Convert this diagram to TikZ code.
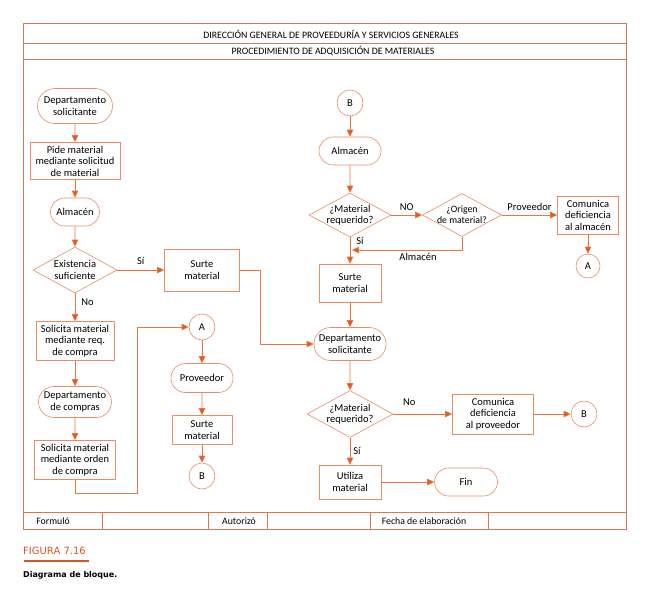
\documentclass[tikz,border=0pt]{standalone}
\usepackage{fontspec}
\setmainfont{Carlito}
\newfontfamily\capfont{DejaVu Sans}
\usepackage{xcolor}
\usetikzlibrary{shapes.geometric, shapes.misc, arrows.meta, positioning, calc}
\definecolor{lineorange}{RGB}{232,118,68}
\definecolor{boxorange}{RGB}{236,138,98}
\definecolor{tiporange}{RGB}{230,88,30}
\definecolor{frameorange}{RGB}{214,122,86}
\definecolor{figorange}{RGB}{214,84,36}

\begin{document}
\begin{tikzpicture}[x=1pt, y=-1pt,
    base/.style={draw=boxorange, line width=0.6pt, align=center, inner sep=1pt,
        font=\fontsize{10.5}{11.5}\selectfont},
    terminal/.style={base, rounded rectangle},
    procbox/.style={base, rectangle},
    decision/.style={base, diamond, inner sep=0pt},
    dtext/.style={align=center, inner sep=0pt, font=\fontsize{10.5}{11.5}\selectfont},
    joint/.style={base, circle, minimum size=26pt, inner sep=0pt},
    flow/.style={draw=lineorange, line width=0.65pt,
        -{Triangle[length=7pt, width=6.5pt, fill=tiporange]}},
    tag/.style={inner sep=0pt, font=\fontsize{10.5}{11}\selectfont}]
\useasboundingbox (0,0) rectangle (666,592);

% Frame and header
\draw[frameorange, line width=0.7pt] (23,23) rectangle (626,529);
\draw[frameorange, line width=0.7pt] (23,43) -- (626,43);
\draw[frameorange, line width=0.7pt] (23,59) -- (626,59);
\draw[frameorange, line width=0.7pt] (23,512) -- (626,512);
\foreach \x in {102,208,267,370,488}
    \draw[frameorange, line width=0.7pt] (\x,512) -- (\x,529);
\node[tag, font=\fontsize{9.8}{11}\selectfont] (title) at (331,34) {DIRECCIÓN GENERAL DE PROVEEDURÍA Y SERVICIOS GENERALES};
\node[tag, font=\fontsize{9.8}{11}\selectfont] (proc) at (333,51) {PROCEDIMIENTO DE ADQUISICIÓN DE MATERIALES};
\node[tag, font=\fontsize{9.8}{11}\selectfont] (formulo) at (53,521) {Formuló};
\node[tag, font=\fontsize{9.8}{11}\selectfont] (autorizo) at (239,521) {Autorizó};
\node[tag, font=\fontsize{9.8}{11}\selectfont] (fecha) at (424,521) {Fecha de elaboración};

% Left column
\node[terminal, minimum width=77pt, minimum height=35pt] (dsol) at (75,106) {Departamento\\solicitante};
\node[procbox, minimum width=90pt, minimum height=37pt] (pide) at (75,161) {Pide material\\mediante solicitud\\de material};
\node[terminal, minimum width=51pt, minimum height=28pt] (alm1) at (75,212) {Almacén};
\node[decision, minimum width=84pt, minimum height=46pt,
    label={[dtext]center:{Existencia\\suficiente}}] (exis) at (75,270) {};
\node[procbox, minimum width=75pt, minimum height=42pt] (surte1) at (202,270) {Surte\\material};
\node[procbox, minimum width=78pt, minimum height=39pt] (req) at (75,341) {Solicita material\\mediante req.\\de compra};
\node[terminal, minimum width=75pt, minimum height=31pt] (dcomp) at (75,402) {Departamento\\de compras};
\node[procbox, minimum width=81pt, minimum height=39pt] (orden) at (75,460) {Solicita material\\mediante orden\\de compra};

% Middle column
\node[joint] (a1) at (202,327) {A};
\node[terminal, minimum width=64pt, minimum height=29pt] (prov) at (202,378) {Proveedor};
\node[procbox, minimum width=60pt, minimum height=29pt] (surte2) at (202,430) {Surte\\material};
\node[joint] (b1) at (202,476) {B};

% Right column
\node[joint] (b2) at (350,103) {B};
\node[terminal, minimum width=64pt, minimum height=28pt] (alm2) at (350,151) {Almacén};
\node[decision, minimum width=82pt, minimum height=44pt,
    label={[dtext]center:{¿Material\\requerido?}}] (mreq1) at (350,215) {};
\node[decision, minimum width=79pt, minimum height=43pt,
    label={[dtext, font=\fontsize{9.8}{11}\selectfont]center:{¿Origen\\de material?}}] (orig) at (462,215) {};
\node[procbox, minimum width=61pt, minimum height=38pt] (comalm) at (588,215) {Comunica\\deficiencia\\al almacén};
\node[joint, minimum size=24pt] (a2) at (588,266) {A};
\node[procbox, minimum width=62pt, minimum height=38pt] (surte3) at (350,283) {Surte\\material};
\node[terminal, minimum width=74pt, minimum height=33pt] (dsol2) at (350,344) {Departamento\\solicitante};
\node[decision, minimum width=86pt, minimum height=47pt,
    label={[dtext]center:{¿Material\\requerido?}}] (mreq2) at (350,414) {};
\node[procbox, minimum width=81pt, minimum height=40pt] (comprov) at (493,414) {Comunica\\deficiencia\\al proveedor};
\node[joint] (b3) at (584,414) {B};
\node[procbox, minimum width=62pt, minimum height=34pt] (util) at (350,482) {Utiliza\\material};
\node[terminal, minimum width=65pt, minimum height=28pt] (fin) at (466,482) {Fin};

% Bends
\coordinate (elbow1) at (137,493);
\coordinate (elbow2) at (260,344);
\coordinate (back) at (352,250);

% Connectors
\draw[flow] (dsol) -- (pide);
\draw[flow] (pide) -- (alm1);
\draw[flow] (alm1) -- (exis);
\draw[flow] (exis) -- node[tag, above=5pt] {Sí} (surte1);
\draw[flow] (exis) -- node[tag, pos=0.3, right=6pt] {No} (req);
\draw[flow] (req) -- (dcomp);
\draw[flow] (dcomp) -- (orden);
\draw[flow] (orden.south) |- (elbow1) |- (a1);
\draw[flow] (a1) -- (prov);
\draw[flow] (prov) -- (surte2);
\draw[flow] (surte2) -- (b1);
\draw[flow] (surte1.east) -| (elbow2) -- (dsol2);
\draw[flow] (b2) -- (alm2);
\draw[flow] (alm2) -- (mreq1);
\draw[flow] (mreq1) -- node[tag, above=4pt] {NO} (orig);
\draw[flow] (orig) -- node[tag, above=4pt] {Proveedor} (comalm);
\draw[flow] (comalm) -- (a2);
\draw[flow] (orig.south) |- node[tag, pos=0.7, below=3pt] {Almacén} (back);
\draw[flow] (mreq1) -- node[tag, pos=0.15, right=6pt] {Sí} (surte3);
\draw[flow] (surte3) -- (dsol2);
\draw[flow] (dsol2) -- (mreq2);
\draw[flow] (mreq2) -- node[tag, pos=0.27, above=8pt] {No} (comprov);
\draw[flow] (comprov) -- (b3);
\draw[flow] (mreq2) -- node[tag, pos=0.5, right=3pt] {Sí} (util);
\draw[flow] (util) -- (fin);

% Caption
\node[tag, anchor=west, text=figorange, font=\capfont\fontsize{10}{12}\selectfont] (fig) at (23,551) {FIGURA 7.16};
\draw[figorange, line width=1.2pt] (24,561) -- (89,561);
\node[tag, anchor=west, font=\capfont\bfseries\fontsize{8}{9}\selectfont] (capt) at (23,575) {Diagrama de bloque.};
\end{tikzpicture}
\end{document}
